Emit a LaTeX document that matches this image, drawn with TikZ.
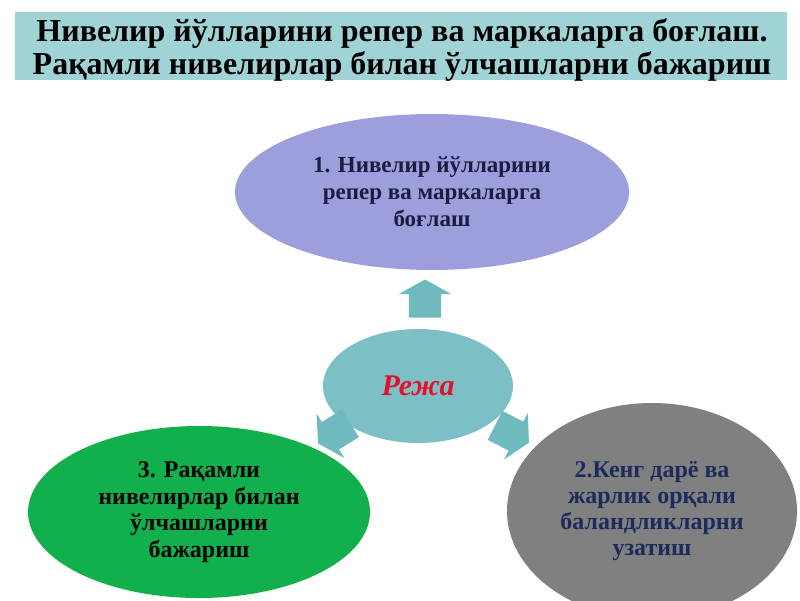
\documentclass[tikz,border=0pt]{standalone}
\usepackage{fontspec}
\setmainfont{Liberation Serif}
\usetikzlibrary{shapes.geometric,shapes.arrows}

\definecolor{bannerteal}{HTML}{9FD3D5}
\definecolor{lavender}{HTML}{9C9FDC}
\definecolor{hubteal}{HTML}{7CC0C5}
\definecolor{arrowteal}{HTML}{6FBABE}
\definecolor{leafgreen}{HTML}{12B04C}
\definecolor{stonegray}{HTML}{808080}
\definecolor{inknavy}{HTML}{1A1C40}
\definecolor{graynavy}{HTML}{1C2B5C}
\definecolor{rejared}{HTML}{E4102C}

\begin{document}
\begin{tikzpicture}[x=1pt,y=-1pt,
	item node/.style={ellipse,inner sep=0pt,align=center,font=\fontsize{23}{27}\selectfont\bfseries},
	spoke/.style={single arrow,fill=arrowteal,minimum height=38pt,inner xsep=0pt,inner ysep=16pt,
		single arrow head extend=10pt,single arrow tip angle=122}]
	
	\useasboundingbox (0,0) rectangle (800,600);
	\fill[bannerteal] (15,12) rectangle (787,80);
	\node[align=center,inner sep=0pt,font=\fontsize{32}{33}\selectfont\bfseries] (title) at (402,50)
		{Нивелир йўлларини репер ва маркаларга боғлаш.\\Рақамли нивелирлар билан ўлчашларни бажариш};
	
	\node[item node,fill=lavender,text=inknavy,minimum width=394pt,minimum height=156pt] (first) at (432,192)
		{1. Нивелир йўлларини\\репер ва маркаларга\\боғлаш};
	\node[item node,fill=hubteal,minimum width=190pt,minimum height=114pt,
		font=\fontsize{30}{32}\selectfont\bfseries\itshape,text=rejared] (hub) at (418,386) {Режа};
	\node[item node,fill=leafgreen,text=black,minimum width=342pt,minimum height=172pt,
		font=\fontsize{24}{26.5}\selectfont\bfseries] (third) at (199,512)
		{3. Рақамли\\нивелирлар билан\\ўлчашларни\\бажариш};
	\node[item node,fill=stonegray,text=graynavy,minimum width=290pt,minimum height=216pt,
		font=\fontsize{24}{26}\selectfont\bfseries] (second) at (652,511)
		{2.Кенг дарё ва\\жарлик орқали\\баландликларни\\узатиш};
	
	% arrows out of the hub
	\node[spoke,rotate=90] (toFirst) at (425,303) {};
	\node[spoke,rotate=-27] (toSecond) at (508,432) {};
	\node[spoke,rotate=212] (toThird) at (338,431) {};
\end{tikzpicture}
\end{document}
